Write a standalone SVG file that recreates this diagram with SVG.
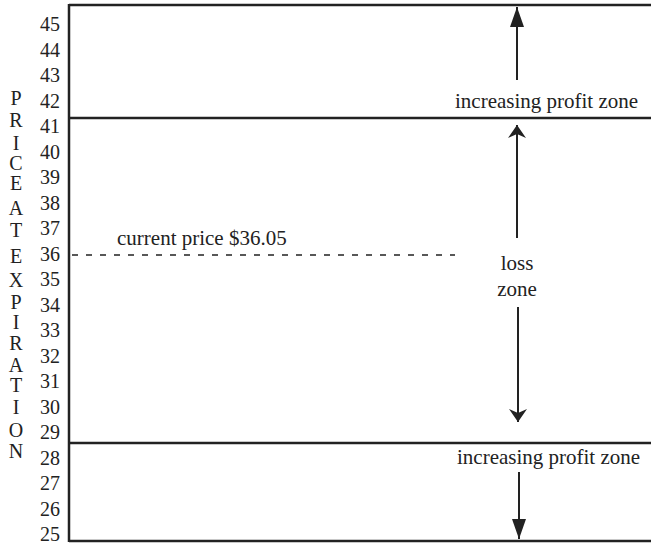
<svg xmlns="http://www.w3.org/2000/svg" width="651" height="546" viewBox="0 0 651 546">
<style>
.t{font-family:"Liberation Serif","Times New Roman",serif;fill:#222;}
.num{font-size:20px;text-anchor:end;}
.let{font-size:20px;text-anchor:middle;}
.lab{font-size:21px;}
.ln{stroke:#222;stroke-width:2.5;fill:none;}
.ar{stroke:#222;stroke-width:2;fill:none;}
</style>
<defs>
<marker id="solid" viewBox="0 0 20 14" refX="20" refY="7" markerWidth="20" markerHeight="14" markerUnits="userSpaceOnUse" orient="auto">
<path d="M0,0 L20,7 L0,14 Z" fill="#222"/>
</marker>
<marker id="barb" viewBox="0 0 13 18" refX="13" refY="9" markerWidth="13" markerHeight="18" markerUnits="userSpaceOnUse" orient="auto">
<path d="M0,0 L13,9 L0,18 L4,9 Z" fill="#222"/>
</marker>
</defs>
<g id="frame">
<line class="ln" x1="69" y1="5" x2="651" y2="5"/>
<line class="ln" x1="69" y1="4" x2="69" y2="542"/>
<line class="ln" x1="69" y1="118" x2="651" y2="118"/>
<line class="ln" x1="69" y1="443" x2="651" y2="443"/>
<line class="ln" x1="69" y1="541" x2="651" y2="541"/>
</g>
<g id="axis-numbers" class="t num">
<text x="60" y="31">45</text>
<text x="60" y="56.5">44</text>
<text x="60" y="82">43</text>
<text x="60" y="107.5">42</text>
<text x="60" y="133">41</text>
<text x="60" y="158.5">40</text>
<text x="60" y="184">39</text>
<text x="60" y="209.5">38</text>
<text x="60" y="235">37</text>
<text x="60" y="261">36</text>
<text x="60" y="286">35</text>
<text x="60" y="311.5">34</text>
<text x="60" y="337">33</text>
<text x="60" y="362.5">32</text>
<text x="60" y="388">31</text>
<text x="60" y="413.5">30</text>
<text x="60" y="439">29</text>
<text x="60" y="464.5">28</text>
<text x="60" y="490">27</text>
<text x="60" y="515.5">26</text>
<text x="60" y="541">25</text>
</g>
<g id="axis-title" class="t let">
<text x="16" y="105">P</text>
<text x="16" y="127">R</text>
<text x="16" y="150">I</text>
<text x="16" y="170">C</text>
<text x="16" y="190">E</text>
<text x="16" y="215">A</text>
<text x="16" y="237">T</text>
<text x="16" y="263">E</text>
<text x="16" y="287">X</text>
<text x="16" y="309">P</text>
<text x="16" y="329">I</text>
<text x="16" y="350">R</text>
<text x="16" y="372">A</text>
<text x="16" y="392">T</text>
<text x="16" y="414">I</text>
<text x="16" y="437">O</text>
<text x="16" y="458">N</text>
</g>
<g id="current-price">
<line x1="72" y1="255" x2="455" y2="255" stroke="#222" stroke-width="1.5" stroke-dasharray="6,8"/>
<text class="t lab" x="117" y="245">current price $36.05</text>
</g>
<g id="top-zone">
<text class="t lab" x="455" y="108">increasing profit zone</text>
</g>
<g id="loss-zone">
<text class="t lab" x="517" y="270" text-anchor="middle">loss</text>
<text class="t lab" x="517" y="296" text-anchor="middle">zone</text>
</g>
<g id="bottom-zone">
<text class="t lab" x="457" y="464">increasing profit zone</text>
</g>
<g id="connectors">
<line class="ar" x1="517" y1="80" x2="517" y2="7" marker-end="url(#solid)"/>
<line class="ar" x1="517" y1="238" x2="517" y2="125" marker-end="url(#barb)"/>
<line class="ar" x1="518" y1="307" x2="518" y2="422" marker-end="url(#barb)"/>
<line class="ar" x1="519" y1="472" x2="519" y2="539" marker-end="url(#solid)"/>
</g>
</svg>
